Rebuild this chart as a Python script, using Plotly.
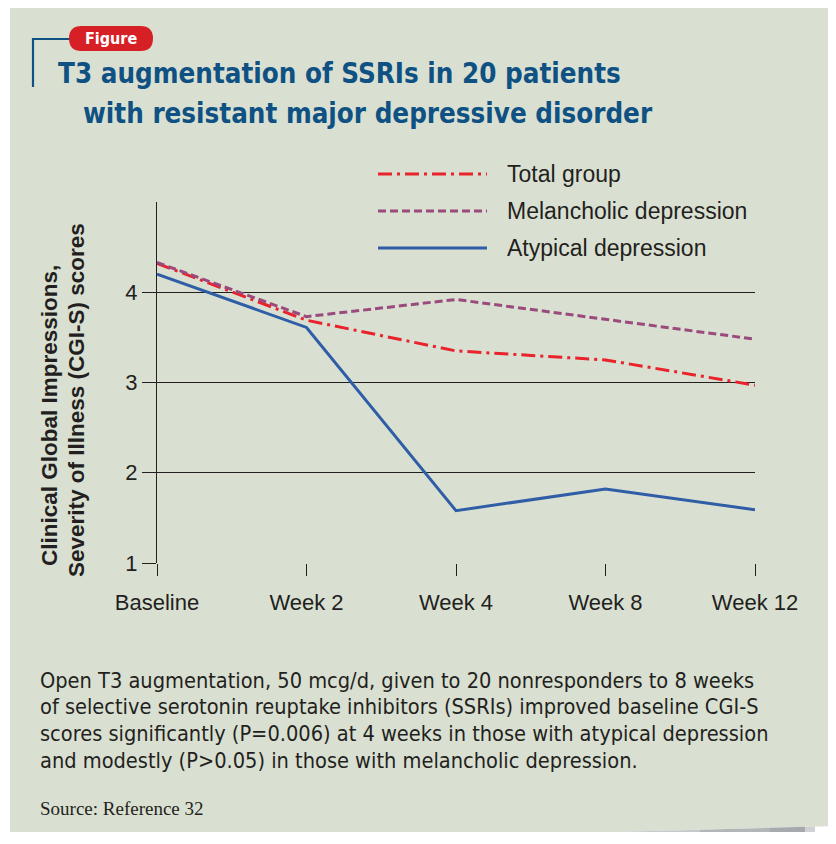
import plotly.graph_objects as go

# ---------------- data ----------------
categories = ["Baseline", "Week 2", "Week 4", "Week 8", "Week 12"]
total_group = [4.32, 3.69, 3.35, 3.25, 2.97]
melancholic = [4.33, 3.73, 3.92, 3.70, 3.48]
atypical = [4.20, 3.61, 1.58, 1.82, 1.59]
y_ticks = [1, 2, 3, 4]
series_names = ["Total group", "Melancholic depression", "Atypical depression"]

# the page body has an 8px margin, so the figure is placed at (8, 8)
OFF = 8
W, H = 836 - OFF, 844 - 2 * OFF - 4
def X(px):
    return (px - OFF) / W
def Y(py):
    return 1 - (py - OFF) / H

PANEL = "#d9e0d2"
INK = "#231f20"
BLUE_T = "#0f5183"
RED = "#e9222b"
PURPLE = "#9a4a7c"
BLUE = "#2f5da6"
DASHDOT = "14px,5px,3px,5px"
DASH = "8px,4px"
COND = "DejaVu Sans Condensed, Roboto, sans-serif"
SANS = "Liberation Sans, Arial, sans-serif"

xidx = list(range(len(categories)))

fig = go.Figure()
styles = [(total_group, RED, DASHDOT), (melancholic, PURPLE, DASH), (atypical, BLUE, "solid")]
for (vals, col, dash), name in zip(styles, series_names):
    fig.add_trace(go.Scatter(x=xidx, y=vals, mode="lines", name=name,
                             line=dict(color=col, width=3, dash=dash),
                             showlegend=False, cliponaxis=False))

shapes = []
# panel background with slanted bottom edge
shapes.append(dict(type="path", xref="paper", yref="paper", layer="below",
                   path=f"M {X(10)},{Y(6)} L {X(840)},{Y(6)} L {X(840)},{Y(826)} L {X(500)},{Y(835)} L {X(10)},{Y(848)} Z",
                   fillcolor=PANEL, line=dict(width=0)))
# page-curl shadow
shade = [("#e9eaeb", 440, 540), ("#d9dbdc", 540, 620), ("#c6c9cb", 620, 700), ("#b3b6b9", 700, 770), ("#a6aaae", 770, 805), ("#cfd1d3", 805, 815)]
for col, x0, x1 in shade:
    y0 = 835 + (500 - x0) * 9 / 336
    y1 = 835 + (500 - x1) * 9 / 336
    shapes.append(dict(type="path", xref="paper", yref="paper", layer="below",
                       path=f"M {X(x0)},{Y(y0)} L {X(x1)},{Y(y1)} L {X(x1)},{Y(850)} L {X(x0)},{Y(850)} Z",
                       fillcolor=col, line=dict(width=0)))
# bracket
shapes.append(dict(type="path", xref="paper", yref="paper",
                   path=f"M {X(33)},{Y(87)} L {X(33)},{Y(39)} L {X(72)},{Y(39)}",
                   line=dict(color=BLUE_T, width=2.2)))
# badge
bx0, bx1, by0, by1, r = 69, 153, 26, 51, 12.5
shapes.append(dict(type="path", xref="paper", yref="paper",
                   path=(f"M {X(bx0+r)},{Y(by0)} L {X(bx1-r)},{Y(by0)} "
                         f"Q {X(bx1)},{Y(by0)} {X(bx1)},{Y((by0+by1)/2)} "
                         f"Q {X(bx1)},{Y(by1)} {X(bx1-r)},{Y(by1)} "
                         f"L {X(bx0+r)},{Y(by1)} Q {X(bx0)},{Y(by1)} {X(bx0)},{Y((by0+by1)/2)} "
                         f"Q {X(bx0)},{Y(by0)} {X(bx0+r)},{Y(by0)} Z"),
                   fillcolor="#d71f26", line=dict(width=0)))
# legend samples
leg_y = [174, 211, 248]
for (vals, col, dash), ly in zip(styles, leg_y):
    shapes.append(dict(type="line", xref="paper", yref="paper",
                       x0=X(378), x1=X(487), y0=Y(ly), y1=Y(ly),
                       line=dict(color=col, width=3, dash=dash)))

annotations = []
annotations.append(dict(text="<b>Figure</b>", x=X(111), y=Y(38.5), xref="paper", yref="paper",
                        showarrow=False, xanchor="center", yanchor="middle",
                        font=dict(family=COND, size=16, color="white")))
annotations.append(dict(text="<b>T3 augmentation of SSRIs in 20 patients</b>", x=X(56), y=Y(73),
                        xref="paper", yref="paper", showarrow=False, xanchor="left", yanchor="middle",
                        font=dict(family=COND, size=27.5, color=BLUE_T)))
annotations.append(dict(text="<b>with resistant major depressive disorder</b>", x=X(81), y=Y(113),
                        xref="paper", yref="paper", showarrow=False, xanchor="left", yanchor="middle",
                        font=dict(family=COND, size=27.5, color=BLUE_T)))
for name, ly in zip(series_names, leg_y):
    annotations.append(dict(text=name, x=X(505), y=Y(ly), xref="paper", yref="paper",
                            showarrow=False, xanchor="left", yanchor="middle",
                            font=dict(family=SANS, size=23, color=INK)))
ytitle = [("<b>Clinical Global Impressions,</b>", 49, 416),
          ("<b>Severity of Illness (CGI-S) scores</b>", 76, 400)]
for txt, cx, cy in ytitle:
    annotations.append(dict(text=txt, x=X(cx), y=Y(cy), xref="paper", yref="paper", showarrow=False,
                            textangle=-90, xanchor="center", yanchor="middle",
                            font=dict(family=SANS, size=22.5, color=INK)))
caption = ["Open T3 augmentation, 50 mcg/d, given to 20 nonresponders to 8 weeks",
           "of selective serotonin reuptake inhibitors (SSRIs) improved baseline CGI-S",
           "scores significantly (P=0.006) at 4 weeks in those with atypical depression",
           "and modestly (P>0.05) in those with melancholic depression."]
for i, line in enumerate(caption):
    annotations.append(dict(text=line, x=X(38), y=Y(680 + i * 26.7), xref="paper", yref="paper",
                            showarrow=False, xanchor="left", yanchor="middle",
                            font=dict(family=COND, size=21.6, color=INK)))
annotations.append(dict(text="Source: Reference 32", x=X(38), y=Y(808), xref="paper", yref="paper",
                        showarrow=False, xanchor="left", yanchor="middle",
                        font=dict(family="Liberation Serif", size=19, color=INK)))

fig.update_layout(
    width=W, height=H,
    margin=dict(l=0, r=0, t=0, b=0, pad=0, autoexpand=False),
    paper_bgcolor="white", plot_bgcolor="rgba(0,0,0,0)",
    shapes=shapes, annotations=annotations,
    xaxis=dict(domain=[X(157), X(755)], range=[0, 4], tickmode="array", automargin=False,
               tickvals=xidx, ticktext=categories, showgrid=False, zeroline=False,
               showline=False, ticks="outside", ticklen=12, tickwidth=1.3, tickcolor=INK,
               ticklabelstandoff=8,
               tickfont=dict(family=SANS, size=22, color=INK)),
    yaxis=dict(domain=[Y(563), Y(202)], range=[1, 5], tickmode="array", tickvals=y_ticks,
               automargin=False,
               showgrid=True, gridcolor=INK, gridwidth=1.3, zeroline=False,
               showline=True, linecolor=INK, linewidth=1.3,
               ticks="outside", ticklen=14, tickwidth=1.3, tickcolor=INK,
               tickfont=dict(family=SANS, size=22, color=INK)),
    font=dict(family=SANS, color=INK),
)

fig.write_html("out.html")
